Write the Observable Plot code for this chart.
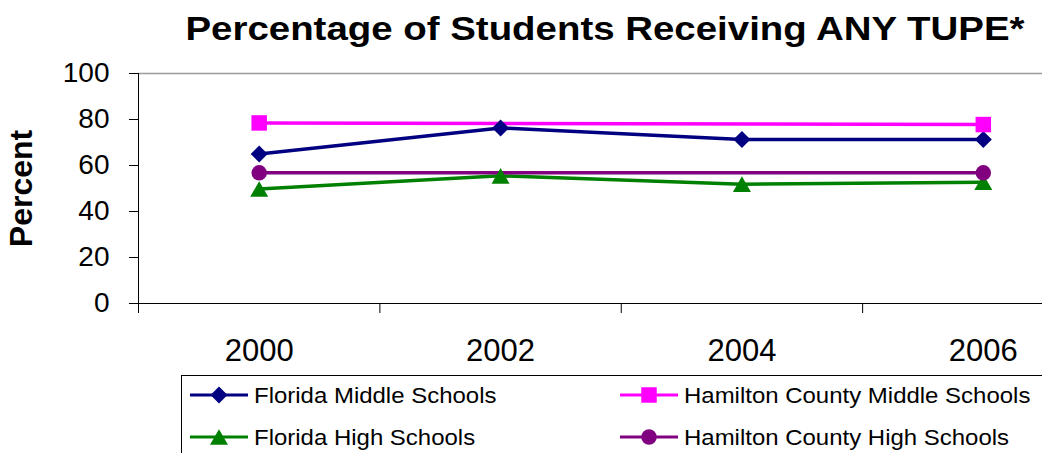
<!DOCTYPE html>
<html><head><meta charset="utf-8">
<script src="https://cdn.jsdelivr.net/npm/d3@7"></script>
<script src="https://cdn.jsdelivr.net/npm/@observablehq/plot@0.6"></script>
<style>
body{margin:0;background:#fff;}
#chart{position:relative;width:1042px;height:453px;overflow:hidden;background:#fff;font-family:"Liberation Sans",Arial,sans-serif;}
#title{position:absolute;left:0;top:9px;width:1210px;text-align:center;font-weight:bold;font-size:34px;line-height:1.15;transform:scaleX(1.13);transform-origin:605px 0;color:#000;white-space:nowrap;}
#plot{position:absolute;left:0;top:55px;}
#legend{position:absolute;left:0;top:372px;}
</style></head>
<body><div id="chart"><div id="title">Percentage of Students Receiving ANY TUPE*</div><div id="plot"></div><div id="legend"></div></div>
<script>
const years = [2000, 2002, 2004, 2006];
const bandEdges = [1999, 2001, 2003, 2005];
const seriesNames = ["Florida Middle Schools", "Hamilton County Middle Schools", "Florida High Schools", "Hamilton County High Schools"];
const floridaMiddle = [65, 76.3, 71.3, 71.3];
const hamiltonMiddle = [78.5, null, null, 77.8];
const floridaHigh = [49.8, 55.5, 51.9, 52.7];
const hamiltonHigh = [56.8, null, null, 56.8];
const yTicks = [0, 20, 40, 60, 80, 100];
const seriesColors = ["#000080", "#FF00FF", "#008000", "#800080"];
const seriesSymbols = ["diamond2", "square", "triangle", "circle"];
const seriesRadius = [7.66, 8.74, 6.69, 7.75];
const seriesDy = [0, 0, 2.6, 0];

const seriesValues = [floridaMiddle, hamiltonMiddle, floridaHigh, hamiltonHigh];
const rows = [];
seriesValues.forEach((vals, i) => {
  vals.forEach((v, j) => {
    if (v != null) rows.push({series: seriesNames[i], i, year: years[j], value: v});
  });
});

const lineMarks = seriesNames.map((s, i) =>
  Plot.line(rows.filter(d => d.i === i), {x: "year", y: "value", stroke: seriesColors[i], strokeWidth: 3.5}));
const dotMarks = seriesNames.map((s, i) =>
  Plot.dot(rows.filter(d => d.i === i), {x: "year", y: "value", symbol: seriesSymbols[i], r: seriesRadius[i], fill: seriesColors[i], stroke: "none", dy: seriesDy[i]}));

const chart = Plot.plot({
  width: 1042,
  height: 317,
  marginTop: 18,
  marginBottom: 69,
  marginLeft: 138,
  marginRight: 0,
  style: {fontFamily: "'Liberation Sans', Arial, sans-serif", color: "#000", background: "#fff"},
  x: {type: "linear", domain: [1999, 2007], range: [138, 1103.5], axis: null},
  y: {domain: [0, 100], axis: null},
  marks: [
    Plot.ruleY([100], {stroke: "#9a9a9a", strokeWidth: 1.5}),
    Plot.ruleY([0], {stroke: "#000"}),
    Plot.ruleX([1999], {stroke: "#000"}),
    Plot.axisY({ticks: yTicks, tickSize: 9, tickPadding: 20, fontSize: 28, label: null, tickFormat: d => String(d)}),
    Plot.axisX({ticks: bandEdges, tickSize: 10, tickFormat: () => "", label: null}),
    Plot.axisX({ticks: years, tickSize: 0, tickPadding: 35, fontSize: 31, label: null, tickFormat: d => String(d)}),
    Plot.text(["Percent"], {text: d => d, frameAnchor: "left", textAnchor: "middle", lineAnchor: "middle", rotate: -90, dx: -116.5, fontSize: 32, fontWeight: "bold"}),
    ...lineMarks,
    ...dotMarks
  ]
});
document.getElementById("plot").appendChild(chart);

// Legend
const symbolTypes = {diamond2: d3.symbolDiamond2, square: d3.symbolSquare, triangle: d3.symbolTriangle, circle: d3.symbolCircle};
const lg = d3.select("#legend").append("svg").attr("width", 1042).attr("height", 81)
  .style("font-family", "'Liberation Sans', Arial, sans-serif");
lg.append("rect").attr("x", 181.5).attr("y", 3.5).attr("width", 1000).attr("height", 120)
  .attr("fill", "none").attr("stroke", "#000");
const colX = [190, 620];
const rowY = [23, 65];
seriesNames.forEach((name, i) => {
  const cx = colX[i % 2], cy = rowY[Math.floor(i / 2)];
  const g = lg.append("g");
  g.append("line").attr("x1", cx).attr("x2", cx + 58).attr("y1", cy).attr("y2", cy)
    .attr("stroke", seriesColors[i]).attr("stroke-width", 3);
  g.append("path")
    .attr("d", d3.symbol(symbolTypes[seriesSymbols[i]], Math.PI * seriesRadius[i] ** 2)())
    .attr("transform", `translate(${cx + 29},${cy + seriesDy[i]})`)
    .attr("fill", seriesColors[i]);
  g.append("text").attr("transform", `translate(${cx + 64},${cy}) scale(1.09,1)`)
    .attr("dy", "0.35em").attr("font-size", 22).attr("fill", "#000").text(name);
});
</script>
</body></html>
